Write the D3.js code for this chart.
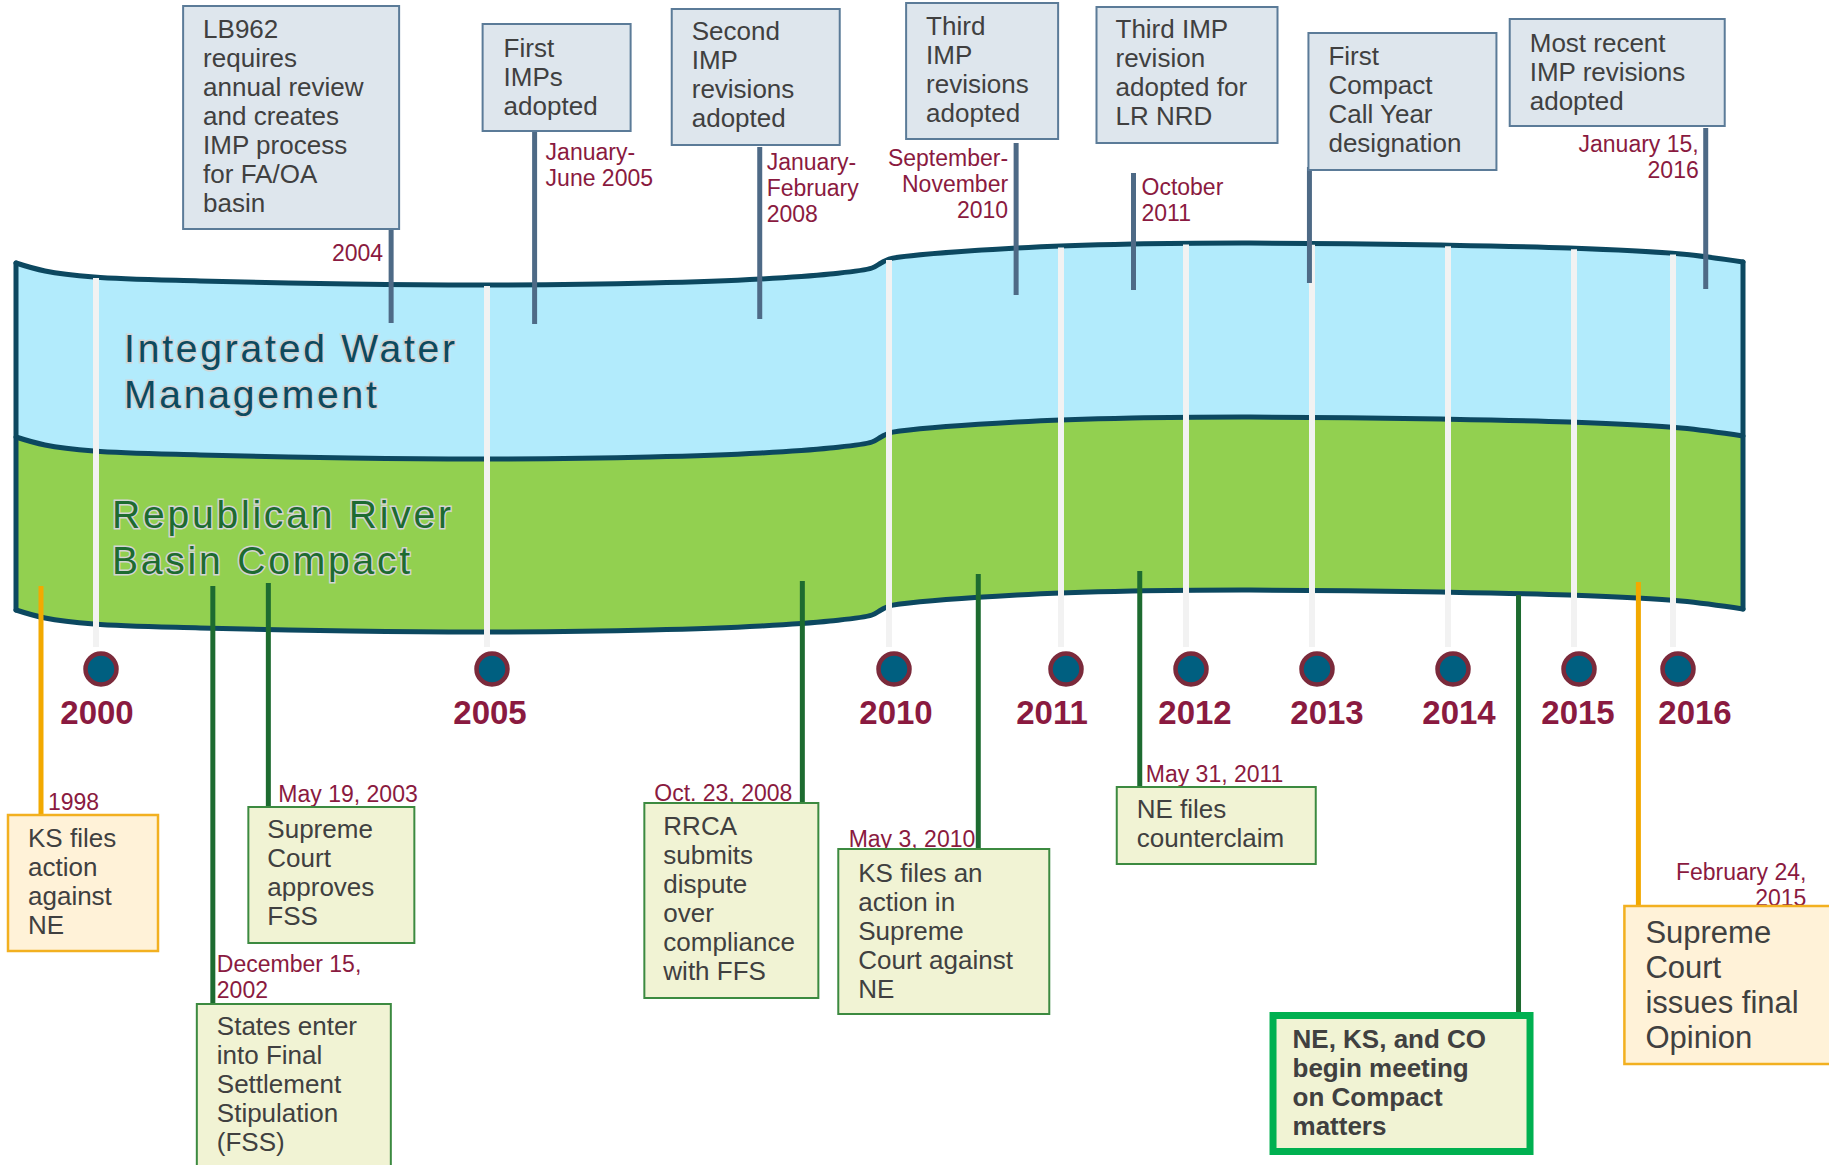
<!DOCTYPE html>
<html>
<head>
<meta charset="utf-8">
<script src="https://cdn.jsdelivr.net/npm/d3@7"></script>
<style>
  html, body { margin: 0; padding: 0; background: #fff; }
  svg { display: block; font-family: "Liberation Sans", Arial, sans-serif; }
</style>
</head>
<body>
<svg id="chart" width="1829" height="1165"></svg>
<script>
// ---- data ----
const years = [2000, 2005, 2010, 2011, 2012, 2013, 2014, 2015, 2016];

const bandTitles = [
  ['Integrated Water', 'Management'],
  ['Republican River', 'Basin Compact']
];

// Integrated Water Management milestones (above the band)
const iwmText = [
  ['LB962', 'requires', 'annual review', 'and creates', 'IMP process', 'for FA/OA', 'basin'],
  ['First', 'IMPs', 'adopted'],
  ['Second', 'IMP', 'revisions', 'adopted'],
  ['Third', 'IMP', 'revisions', 'adopted'],
  ['Third IMP', 'revision', 'adopted for', 'LR NRD'],
  ['First', 'Compact', 'Call Year', 'designation'],
  ['Most recent', 'IMP revisions', 'adopted']
];
const iwmDates = [
  ['2004'], ['January-', 'June 2005'], ['January-', 'February', '2008'],
  ['September-', 'November', '2010'], ['October', '2011'], [], ['January 15,', '2016']
];
// where each marker sits on the (non-linear) timeline
const iwmPos = [2003.71, 2005.53, 2008.33, 2010.71, 2011.54, 2012.94, 2016.28];

// Republican River Compact milestones (below the band)
const rrText = [
  ['KS files', 'action', 'against', 'NE'],
  ['States enter', 'into Final', 'Settlement', 'Stipulation', '(FSS)'],
  ['Supreme', 'Court', 'approves', 'FSS'],
  ['RRCA', 'submits', 'dispute', 'over', 'compliance', 'with FFS'],
  ['KS files an', 'action in', 'Supreme', 'Court against', 'NE'],
  ['NE files', 'counterclaim'],
  ['NE, KS, and CO', 'begin meeting', 'on Compact', 'matters'],
  ['Supreme', 'Court', 'issues final', 'Opinion']
];
const rrDates = [
  ['1998'], ['December 15,', '2002'], ['May 19, 2003'], ['Oct. 23, 2008'],
  ['May 3, 2010'], ['May 31, 2011'], [], ['February 24,', '2015']
];
const rrKind = ['court', 'compact', 'compact', 'compact', 'compact', 'compact', 'highlight', 'court'];
const rrPos = [1998, 2001.43, 2002.14, 2008.86, 2010.49, 2011.59, 2014.52, 2015.60];

// ---- layout ----
const svg = d3.select('#chart');

const x = d3.scaleLinear()
  .domain([1998, ...years])
  .range([41, 101, 492, 894, 1066, 1191, 1317, 1453, 1579, 1678]);

// top edge of the ribbon; the other edges are offsets of it
const topKnots = [[16, 263], [45, 271], [94, 277], [200, 281], [350, 284], [487, 285],
  [650, 283], [761, 279], [830, 274], [872, 268], [881, 263], [889, 259], [900, 257],
  [1017, 248], [1132, 244], [1250, 243], [1441, 245], [1569, 248], [1681, 254], [1743, 262]];
const midOff = 174;
const botOff = 347;
const topY = d3.scaleLinear().domain(topKnots.map(d => d[0])).range(topKnots.map(d => d[1]));

const edgeLine = d3.line().curve(d3.curveCatmullRom.alpha(0.5));
const edge = off => topKnots.map(([px, py]) => [px, py + off]);
const areaPath = (o1, o2) => edgeLine(edge(o1)) + 'L' + edgeLine(edge(o2).reverse()).slice(1) + 'Z';

const defs = svg.append('defs');
defs.append('filter').attr('id', 'blur')
  .attr('x', '-200%').attr('width', '500%')
  .append('feGaussianBlur').attr('stdDeviation', 1.6);

const band = svg.append('g');
band.append('path').attr('d', areaPath(0, midOff)).attr('fill', '#b2ebfc');
band.append('path').attr('d', areaPath(midOff, botOff)).attr('fill', '#92d050');

const outline = band.append('g')
  .attr('fill', 'none')
  .attr('stroke', '#0c4860')
  .attr('stroke-width', 5)
  .attr('stroke-linecap', 'round');
[0, midOff, botOff].forEach(off => outline.append('path').attr('d', edgeLine(edge(off))));
[topKnots[0], topKnots[topKnots.length - 1]].forEach(([px, py]) => {
  outline.append('line').attr('x1', px).attr('x2', px).attr('y1', py).attr('y2', py + botOff);
});

// year ticks: white posts with a soft shadow
const circleY = 669;
const labelNudge = [-4, -2, 2, -14, 4, 10, 6, -1, 17];
const posts = svg.append('g');
years.forEach(yr => {
  const cx = x(yr) - 5;
  const y0 = topY(cx) + 1;
  const y1 = circleY - 22;
  posts.append('line')
    .attr('x1', cx + 7).attr('x2', cx + 7).attr('y1', y0 + 3).attr('y2', y1)
    .attr('stroke', 'rgba(0,0,0,0.28)').attr('stroke-width', 8)
    .attr('filter', 'url(#blur)');
  posts.append('line')
    .attr('x1', cx).attr('x2', cx).attr('y1', y0).attr('y2', y1)
    .attr('stroke', '#f2f2f2').attr('stroke-width', 6);
});

// band titles
const titleColors = ['#0d4a5e', '#1d6b30'];
const titlePos = [[124, 362], [112, 528]];
bandTitles.forEach((lines, i) => {
  const t = svg.append('text')
    .attr('x', titlePos[i][0]).attr('y', titlePos[i][1])
    .attr('font-size', 39)
    .attr('letter-spacing', 2.8)
    .attr('fill', titleColors[i])
    .attr('stroke', '#d4d4d4').attr('stroke-width', 3)
    .attr('paint-order', 'stroke');
  lines.forEach((ln, j) => t.append('tspan').attr('x', titlePos[i][0]).attr('dy', j ? 46 : 0).text(ln));
});

// event markers
const iwmLayout = [
  { bx: [-208, 8], by: [6, 229], tx: -188, ty: 38, ly: [230, 323], da: 'end', dx: -8, dy: 261 },
  { bx: [-52, 96], by: [24, 131], tx: -31, ty: 57, ly: [132, 324], da: 'start', dx: 11, dy: 160 },
  { bx: [-88, 80], by: [9, 145], tx: -68, ty: 40, ly: [147, 319], da: 'start', dx: 7, dy: 170 },
  { bx: [-110, 42], by: [3, 139], tx: -90, ty: 35, ly: [143, 295], da: 'end', dx: -8, dy: 166 },
  { bx: [-37, 144], by: [7, 143], tx: -18, ty: 38, ly: [173, 290], da: 'start', dx: 8, dy: 195 },
  { bx: [-1, 187], by: [33, 170], tx: 19, ty: 65, ly: [167, 283] },
  { bx: [-196, 19], by: [19, 126], tx: -176, ty: 52, ly: [128, 289], da: 'end', dx: -7, dy: 152 }
];
const rrLayout = [
  { bx: [-33, 117], by: [815, 951], tx: -13, ty: 847, ly: [586, 815], da: 'start', dx: 7, dy: 810 },
  { bx: [-16, 178], by: [1004, 1172], tx: 4, ty: 1035, ly: [586, 1004], da: 'start', dx: 4, dy: 972 },
  { bx: [-20, 146], by: [807, 943], tx: -1, ty: 838, ly: [583, 807], da: 'start', dx: 10, dy: 802 },
  { bx: [-158, 16], by: [803, 998], tx: -139, ty: 835, ly: [581, 803], da: 'end', dx: -10, dy: 801 },
  { bx: [-140, 71], by: [849, 1014], tx: -120, ty: 882, ly: [574, 849], da: 'end', dx: -3, dy: 847 },
  { bx: [-23, 176], by: [787, 864], tx: -3, ty: 818, ly: [571, 787], da: 'start', dx: 6, dy: 782 },
  { bx: [-245.5, 11.5], by: [1015.5, 1151.5], tx: -226, ty: 1048, ly: [595, 1012] },
  { bx: [-14, 197], by: [906, 1064], tx: 7, ty: 943, ly: [582, 906], da: 'end', dx: 168, dy: 880, fs: 31, lh: 35 }
];

const styles = {
  iwm: { fill: '#dee6ed', stroke: '#5b7b98', sw: 2, line: '#4e6a86' },
  compact: { fill: '#f1f3d4', stroke: '#3c8a40', sw: 2, line: '#1d6b30' },
  court: { fill: '#fff2d8', stroke: '#f2b020', sw: 2.5, line: '#f2a900' },
  highlight: { fill: '#f1f3d4', stroke: '#00b050', sw: 7, line: '#1d6b30', bold: true }
};

const lineLayer = svg.append('g');
const boxLayer = svg.append('g');

function drawEvent(pos, lay, lines, dates, st) {
  const lx = x(pos);
  lineLayer.append('line')
    .attr('x1', lx).attr('x2', lx).attr('y1', lay.ly[0]).attr('y2', lay.ly[1])
    .attr('stroke', st.line).attr('stroke-width', 5);

  if (dates.length) {
    const d = boxLayer.append('text')
      .attr('x', lx + lay.dx).attr('y', lay.dy)
      .attr('text-anchor', lay.da)
      .attr('font-size', 23)
      .attr('fill', '#8a1a40');
    dates.forEach((ln, j) => d.append('tspan').attr('x', lx + lay.dx).attr('dy', j ? 26 : 0).text(ln));
  }

  boxLayer.append('rect')
    .attr('x', lx + lay.bx[0]).attr('y', lay.by[0])
    .attr('width', lay.bx[1] - lay.bx[0]).attr('height', lay.by[1] - lay.by[0])
    .attr('fill', st.fill).attr('stroke', st.stroke).attr('stroke-width', st.sw);

  const t = boxLayer.append('text')
    .attr('x', lx + lay.tx).attr('y', lay.ty)
    .attr('font-size', lay.fs || 26)
    .attr('font-weight', st.bold ? 'bold' : 'normal')
    .attr('fill', '#404040');
  lines.forEach((ln, j) => t.append('tspan').attr('x', lx + lay.tx).attr('dy', j ? (lay.lh || 29) : 0).text(ln));
}

iwmPos.forEach((p, i) => drawEvent(p, iwmLayout[i], iwmText[i], iwmDates[i], styles.iwm));
rrPos.forEach((p, i) => drawEvent(p, rrLayout[i], rrText[i], rrDates[i], styles[rrKind[i]]));

// year circles and labels
const marks = svg.append('g');
marks.selectAll('circle')
  .data(years)
  .join('circle')
  .attr('cx', d => x(d)).attr('cy', circleY).attr('r', 15.5)
  .attr('fill', '#005f80').attr('stroke', '#7b2a3b').attr('stroke-width', 4.5);
marks.selectAll('text')
  .data(years)
  .join('text')
  .attr('x', (d, i) => x(d) + labelNudge[i]).attr('y', 724)
  .attr('text-anchor', 'middle')
  .attr('font-size', 33).attr('font-weight', 'bold')
  .attr('fill', '#8a1a40')
  .text(d => d);
</script>
</body>
</html>
